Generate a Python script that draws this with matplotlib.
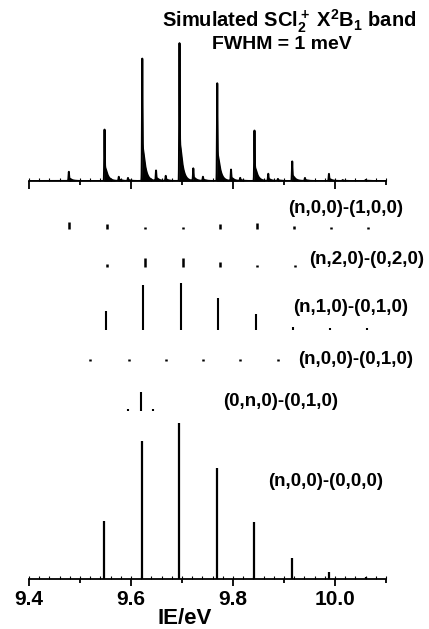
import numpy as np
import matplotlib
matplotlib.use("Agg")
import matplotlib.pyplot as plt
from matplotlib.ticker import MultipleLocator, NullFormatter

plt.rcParams['font.family'] = ['Liberation Sans', 'DejaVu Sans']
plt.rcParams['font.weight'] = 'bold'
plt.rcParams['mathtext.fontset'] = 'custom'
plt.rcParams['mathtext.rm'] = 'Liberation Sans:bold'
plt.rcParams['mathtext.it'] = 'Liberation Sans:bold'
plt.rcParams['mathtext.bf'] = 'Liberation Sans:bold'

# ---------------- data ----------------
# simulated spectrum (top), relative heights
top_main_pos = [9.478, 9.548, 9.622, 9.695, 9.769, 9.842, 9.916, 9.988, 10.060]
top_main_h = [0.067, 0.373, 0.888, 1.0, 0.709, 0.366, 0.142, 0.052, 0.008]
top_minor_pos = [9.576, 9.594, 9.649, 9.668, 9.722, 9.741, 9.796, 9.814,
                 9.869, 9.888, 9.941, 10.015]
top_minor_h = [0.030, 0.022, 0.075, 0.037, 0.090, 0.030, 0.082, 0.022,
               0.052, 0.015, 0.022, 0.007]

# stick spectra (common intensity scale, (0,0,0) origin band = 1)
s100_label = "(n,0,0)-(1,0,0)"
s100_pos = [9.479, 9.553, 9.627, 9.701, 9.775, 9.848, 9.920, 9.992, 10.064]
s100_int = [0.045, 0.032, 0.006, 0.010, 0.032, 0.038, 0.019, 0.006, 0.006]

s020_label = "(n,2,0)-(0,2,0)"
s020_pos = [9.553, 9.627, 9.701, 9.774, 9.848, 9.921]
s020_int = [0.019, 0.058, 0.058, 0.032, 0.013, 0.006]

s010_label = "(n,1,0)-(0,1,0)"
s010_pos = [9.550, 9.624, 9.698, 9.771, 9.845, 9.918, 9.990, 10.062]
s010_int = [0.122, 0.288, 0.301, 0.205, 0.103, 0.019, 0.006, 0.004]

sx010_label = "(n,0,0)-(0,1,0)"
sx010_pos = [9.520, 9.596, 9.668, 9.741, 9.814, 9.888]
sx010_int = [0.005, 0.010, 0.016, 0.016, 0.013, 0.006]

sb010_label = "(0,n,0)-(0,1,0)"
sb010_pos = [9.595, 9.620, 9.644]
sb010_int = [0.006, 0.122, 0.006]

s000_label = "(n,0,0)-(0,0,0)"
s000_pos = [9.548, 9.622, 9.695, 9.769, 9.842, 9.916, 9.988, 10.060]
s000_int = [0.37, 0.885, 1.0, 0.71, 0.365, 0.135, 0.045, 0.01]

xticks_major = [9.4, 9.6, 9.8, 10.0]
xlabel = "IE/eV"
title1 = r"Simulated SCl$_2^+$ X$^2$B$_1$ band"
title2 = "FWHM = 1 meV"

# ---------------- figure ----------------
W, H = 429, 629
fig = plt.figure(figsize=(W / 100, H / 100), dpi=100)

def fx(px):
    return px / W

def fy(py):
    return 1 - py / H

x0, x1 = 29, 386
ax = fig.add_axes([fx(x0), 50 / H, (x1 - x0) / W, (579 - 190) / H])
axt = fig.add_axes([fx(x0), (H - 181) / H, (x1 - x0) / W, 181 / H])

for a in (ax, axt):
    a.set_xlim(9.4, 10.1)
    for s in ('left', 'right', 'top'):
        a.spines[s].set_visible(False)
    a.spines['bottom'].set_linewidth(1.3)
    a.set_yticks([])
    a.xaxis.set_major_locator(MultipleLocator(0.2))
    a.xaxis.set_minor_locator(MultipleLocator(0.1))
    a.tick_params(axis='x', which='major', direction='out', length=5, width=1.3)
    a.tick_params(axis='x', which='minor', direction='out', length=3, width=1.3)
    a.patch.set_alpha(0)
    sec = a.secondary_xaxis('bottom')
    sec.spines['bottom'].set_visible(False)
    sec.xaxis.set_major_locator(MultipleLocator(0.02))
    sec.xaxis.set_major_formatter(NullFormatter())
    sec.tick_params(axis='x', direction='in', length=2, width=0.8)

ax.set_xticks(xticks_major)
ax.set_xticklabels([f"{v:.1f}" for v in xticks_major])
ax.tick_params(axis='x', which='major', labelsize=15, pad=3)
for lab in ax.get_xticklabels():
    lab.set_fontweight('bold')
axt.xaxis.set_major_formatter(NullFormatter())
axt.tick_params(axis='x', which='major', length=6)

# ---- simulated spectrum ----
grid = np.arange(9.4, 10.1, 0.0001)
prof = np.zeros_like(grid)
sig = 0.0005
tau = 0.005
for p, h in list(zip(top_main_pos, top_main_h)) + list(zip(top_minor_pos, top_minor_h)):
    d = grid - p
    spike = np.exp(-0.5 * (d / sig) ** 2)
    dp = np.clip(d, 0, None)
    tail = np.where(d > 0, 0.42 * np.exp(-dp / tau) * (1 - np.exp(-dp / 0.0008)), 0.0)
    prof += h * (spike + tail)
axt.fill_between(grid, 0, prof, color='black', lw=0)
axt.plot(grid, prof, color='black', lw=1.4)
axt.set_ylim(0, 181 / 134)

# ---- stick spectra ----
ax.set_ylim(0, 579 - 190)
scale = 156
rows = [
    (s000_pos, s000_int, 0, 1.6),
    (sb010_pos, sb010_int, 168, 1.5),
    (sx010_pos, sx010_int, 218, 1.8),
    (s010_pos, s010_int, 249, 1.5),
    (s020_pos, s020_int, 312, 1.8),
    (s100_pos, s100_int, 350, 1.8),
]
for pos, inten, off, lw in rows:
    hh = np.maximum(np.array(inten) * scale, 2.2)
    ax.vlines(pos, off, off + hh, color='black', lw=lw)

# ---- labels ----
lab_kw = dict(fontsize=13.5, fontweight='bold', va='center', ha='left')
fig.text(fx(288), fy(209), s100_label, **lab_kw)
fig.text(fx(309), fy(260), s020_label, **lab_kw)
fig.text(fx(293), fy(308), s010_label, **lab_kw)
fig.text(fx(298), fy(359), sx010_label, **lab_kw)
fig.text(fx(223), fy(402), sb010_label, **lab_kw)
fig.text(fx(268), fy(482), s000_label, **lab_kw)

fig.text(fx(289), fy(27.5), title1, fontsize=14.5, fontweight='bold',
         ha='center', va='baseline')
fig.text(fx(282), fy(49), title2, fontsize=14, fontweight='bold',
         ha='center', va='baseline')
fig.text(fx(184.5), fy(618), xlabel, fontsize=16, fontweight='bold',
         ha='center', va='center')

fig.savefig("out.png", dpi=100)
